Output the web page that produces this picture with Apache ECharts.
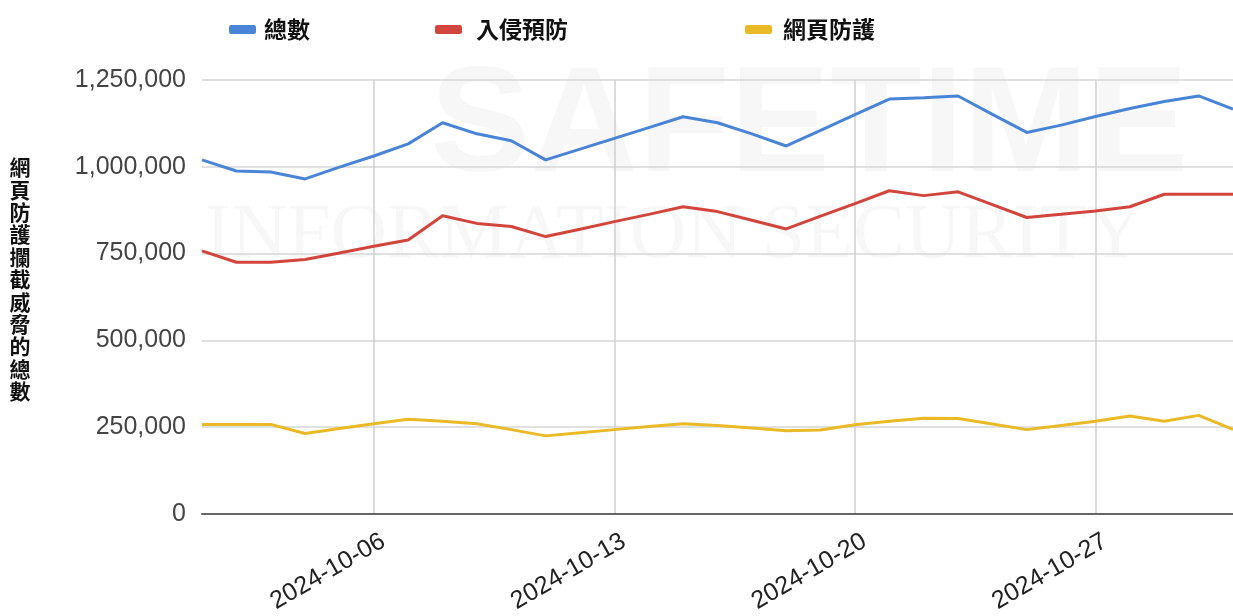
<!DOCTYPE html>
<html>
<head>
<meta charset="utf-8">
<script src="https://cdn.jsdelivr.net/npm/echarts@6/dist/echarts.min.js"></script>
<style>html,body{margin:0;padding:0;background:#fff;}#c{width:1233px;height:616px;}</style>
</head>
<body>
<div id="c"></div>
<script>
const dates = [];
for (let d = 1; d <= 31; d++) dates.push('2024-10-' + String(d).padStart(2, '0'));
const shownDates = ['2024-10-06', '2024-10-13', '2024-10-20', '2024-10-27'];
const seriesNames = ['總數', '入侵預防', '網頁防護'];
const total = [1020000, 988000, 985000, 965000, 999000, 1031000, 1066000, 1127000, 1095000, 1075000,
  1020000, 1051000, 1082000, 1113000, 1144000, 1127000, 1095000, 1060000, 1105000, 1150000,
  1195000, 1199000, 1204000, 1151000, 1099000, 1120000, 1145000, 1168000, 1188000, 1204000, 1166000];
const ips = [758000, 725000, 725000, 733000, 752000, 771000, 789000, 859000, 837000, 828000,
  799000, 820000, 842000, 863000, 885000, 871000, 846000, 821000, 858000, 894000,
  931000, 917000, 928000, 891000, 854000, 863000, 873000, 885000, 921000, 921000, 921000];
const web = [258000, 258000, 258000, 232000, 246000, 260000, 273000, 267000, 260000, 243000,
  225000, 234000, 243000, 252000, 260000, 255000, 248000, 240000, 242000, 257000,
  267000, 276000, 275000, 259000, 243000, 255000, 267000, 282000, 267000, 284000, 244000];
const yTicks = [0, 250000, 500000, 750000, 1000000, 1250000];
const yAxisTitle = '網頁防護攔截威脅的總數';
const colors = ['#4a84d6', '#d2453c', '#e9b926'];

const chart = echarts.init(document.getElementById('c'), null, {renderer: 'canvas'});
const isShown = (i) => shownDates.indexOf(dates[i]) >= 0;
const legendText = (pad) => ({fontSize: 23, fontWeight: 'bold', color: '#111',
  fontFamily: '"Noto Sans CJK TC", sans-serif', padding: [0, 0, 0, pad]});
const legendBase = {top: 18, icon: 'roundRect', itemWidth: 27, itemHeight: 9, itemGap: 0, padding: 0};
const values = [total, ips, web];

chart.setOption({
  animation: false,
  backgroundColor: '#fff',
  color: colors,
  graphic: [
    {type: 'text', left: 430, top: 55, z: -10, silent: true,
      style: {text: 'SAFETIME', font: 'bold 150px "Liberation Sans", Arial, sans-serif', fill: 'rgba(0,0,0,0.03)'}},
    {type: 'text', left: 205, top: 198, z: -10, silent: true,
      style: {text: 'INFORMATION SECURITY', font: '78px "Liberation Serif", serif', fill: 'rgba(0,0,0,0.03)'}},
    {type: 'text', x: 20, y: 156, silent: true,
      style: {text: yAxisTitle.split('').join('\n'), font: 'bold 21px "Noto Sans CJK TC", sans-serif',
        lineHeight: 22.4, fill: '#111', align: 'center', verticalAlign: 'top'}}
  ],
  legend: [
    Object.assign({}, legendBase, {left: 229, data: [seriesNames[0]], textStyle: legendText(3)}),
    Object.assign({}, legendBase, {left: 435, data: [seriesNames[1]], textStyle: legendText(9)}),
    Object.assign({}, legendBase, {left: 745, data: [seriesNames[2]], textStyle: legendText(6)})
  ],
  grid: {left: 202, right: 0, top: 80, bottom: 102, containLabel: false},
  xAxis: {
    type: 'category',
    data: dates,
    boundaryGap: false,
    axisLine: {show: true, lineStyle: {color: '#666', width: 2}},
    axisTick: {show: false},
    axisLabel: {
      interval: (i) => isShown(i),
      rotate: 30,
      margin: 31,
      padding: [0, -11, 0, 0],
      fontSize: 25,
      color: '#222',
      fontFamily: '"Liberation Sans", Arial, sans-serif'
    },
    splitLine: {show: true, interval: (i) => isShown(i), lineStyle: {color: '#cfcfcf', width: 1.5}}
  },
  yAxis: {
    type: 'value',
    min: 0,
    max: yTicks[yTicks.length - 1],
    interval: 250000,
    axisLine: {show: false},
    axisTick: {show: false},
    axisLabel: {
      margin: 16,
      fontSize: 25,
      color: '#444',
      fontFamily: '"Liberation Sans", Arial, sans-serif',
      formatter: (v) => v.toLocaleString('en-US')
    },
    splitLine: {lineStyle: {color: '#d6d6d6', width: 1.5}}
  },
  series: seriesNames.map((n, k) => ({
    name: n,
    type: 'line',
    data: values[k],
    showSymbol: false,
    symbol: 'none',
    lineStyle: {width: 3, color: colors[k]},
    itemStyle: {color: colors[k]},
    z: 3 - k
  }))
});
</script>
</body>
</html>
